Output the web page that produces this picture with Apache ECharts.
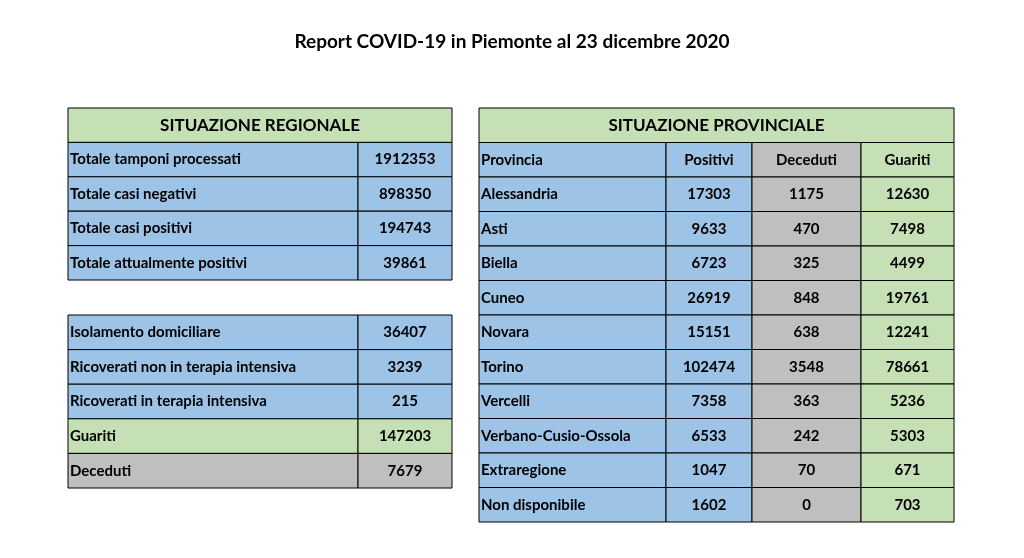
<!DOCTYPE html>
<html><head><meta charset="utf-8">
<script src="https://cdn.jsdelivr.net/npm/echarts@6/dist/echarts.min.js"></script>
<style>html,body{margin:0;background:#fff}#chart{width:1024px;height:558px}</style>
</head><body><div id="chart"></div>
<script>
const title = "Report COVID-19 in Piemonte al 23 dicembre 2020";
const regionLabels = ["Totale tamponi processati", "Totale casi negativi", "Totale casi positivi", "Totale attualmente positivi"];
const regionValues = [1912353, 898350, 194743, 39861];
const statusLabels = ["Isolamento domiciliare", "Ricoverati non in terapia intensiva", "Ricoverati in terapia intensiva", "Guariti", "Deceduti"];
const statusValues = [36407, 3239, 215, 147203, 7679];
const provHeaders = ["Provincia", "Positivi", "Deceduti", "Guariti"];
const provinces = ["Alessandria", "Asti", "Biella", "Cuneo", "Novara", "Torino", "Vercelli", "Verbano-Cusio-Ossola", "Extraregione", "Non disponibile"];
const positivi = [17303, 9633, 6723, 26919, 15151, 102474, 7358, 6533, 1047, 1602];
const deceduti = [1175, 470, 325, 848, 638, 3548, 363, 242, 70, 0];
const guariti = [12630, 7498, 4499, 19761, 12241, 78661, 5236, 5303, 671, 703];

const COL = { blue: "#9dc3e6", green: "#c5e0b4", gray: "#bfbfbf" };

// cells: [edgeStart, edgeEnd, row, text, colour, align]
const t1 = [[0, 2, 0, "SITUAZIONE REGIONALE", "green", "center"]];
regionLabels.forEach((l, i) => {
  t1.push([0, 1, i + 1, l, "blue", "left"]);
  t1.push([1, 2, i + 1, String(regionValues[i]), "blue", "center"]);
});
const t2 = [];
statusLabels.forEach((l, i) => {
  const c = l === "Guariti" ? "green" : l === "Deceduti" ? "gray" : "blue";
  t2.push([0, 1, i, l, c, "left"]);
  t2.push([1, 2, i, String(statusValues[i]), c, "center"]);
});
const provColours = ["blue", "blue", "gray", "green"];
const t3 = [[0, 4, 0, "SITUAZIONE PROVINCIALE", "green", "center"]];
provHeaders.forEach((h, j) => t3.push([j, j + 1, 1, h, provColours[j], j === 0 ? "left" : "center"]));
provinces.forEach((p, i) => {
  [p, positivi[i], deceduti[i], guariti[i]].forEach((v, j) =>
    t3.push([j, j + 1, i + 2, String(v), provColours[j], j === 0 ? "left" : "center"]));
});

const tables = [
  { data: t1, edges: [0, 290, 384], rows: 5, grid: { left: 68, top: 108, width: 384, height: 172 } },
  { data: t2, edges: [0, 290, 384], rows: 5, grid: { left: 68, top: 315, width: 384, height: 173 } },
  { data: t3, edges: [0, 187, 273, 382, 475], rows: 12, grid: { left: 479, top: 108, width: 475, height: 414 } }
];

const chart = echarts.init(document.getElementById("chart"));
const font = "Lato, 'DejaVu Sans', sans-serif";
chart.setOption({
  animation: false,
  title: { text: title, left: "center", top: 27, textStyle: { fontSize: 19, fontWeight: "bold", color: "#000", fontFamily: font } },
  grid: tables.map(t => t.grid),
  xAxis: tables.map((t, i) => ({ type: "value", gridIndex: i, min: 0, max: t.edges[t.edges.length - 1], show: false })),
  yAxis: tables.map((t, i) => ({ type: "category", gridIndex: i, inverse: true, data: Array.from({ length: t.rows }, (_, k) => k), show: false })),
  series: tables.map((t, i) => ({
    type: "custom", xAxisIndex: i, yAxisIndex: i,
    data: t.data.map(d => [d[0], d[1], d[2]]),
    encode: { x: [0, 1], y: 2 },
    renderItem: (params, api) => {
      const d = t.data[params.dataIndex];
      const h = api.size([0, 1])[1];
      const p0 = api.coord([t.edges[d[0]], d[2]]);
      const p1 = api.coord([t.edges[d[1]], d[2]]);
      const x = p0[0], y = p0[1] - h / 2, w = p1[0] - p0[0];
      const header = d[3].startsWith("SITUAZIONE");
      return {
        type: "group",
        children: [
          { type: "rect", shape: { x: x, y: y, width: w, height: h }, style: { fill: COL[d[4]], stroke: "#000", lineWidth: 1 } },
          { type: "text", style: {
              text: d[3], x: d[5] === "left" ? x + 2 : x + w / 2, y: y + h / 2,
              align: d[5], verticalAlign: "middle", fill: "#000",
              font: "bold " + (header ? 17 : 15) + "px " + font } }
        ]
      };
    }
  }))
});
</script></body></html>
